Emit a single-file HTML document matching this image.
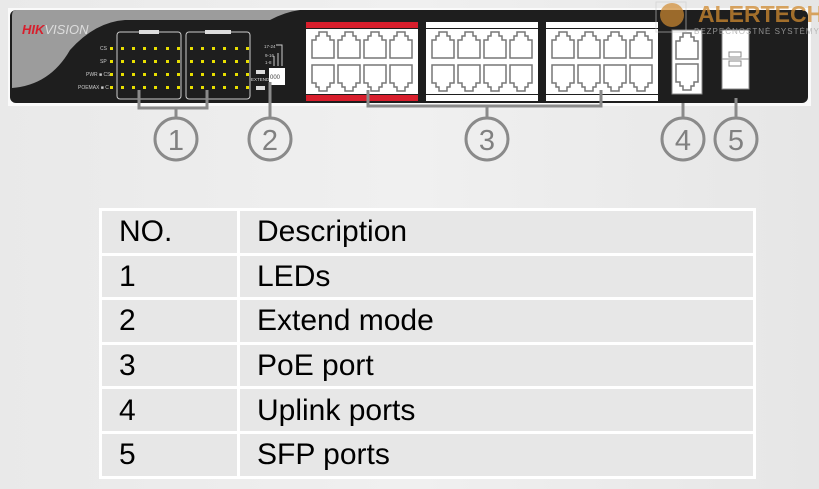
<!DOCTYPE html>
<html><head><meta charset="utf-8"><style>
body{margin:0;width:819px;height:489px;overflow:hidden;background:linear-gradient(90deg,#e9e9e9,#f0f0f0 50%,#e6e6e6);font-family:"Liberation Sans",sans-serif}
svg{position:absolute;left:0;top:0}
table{position:absolute;left:99px;top:208px;width:657px;border-collapse:separate;border-spacing:3px;background:#fff;font-family:"Liberation Sans",sans-serif;font-size:30px;color:#000}
td{background:#e7e7e7;height:41.6px;padding:0 0 0 17px;line-height:41px}
td:first-child{width:118px}
</style></head><body>
<svg width="819" height="489" viewBox="0 0 819 489">
<defs>
<g id="pt"><path d="M0,26V8H4V4H7V0H15V4H18V8H22V26Z" fill="#fff" stroke="#777" stroke-width="1.5"/></g>
<g id="pb"><path d="M0,0V18H4V22H7V26H15V22H18V18H22V0Z" fill="#fff" stroke="#777" stroke-width="1.5"/></g>
<g id="blk">
<rect x="0" y="12" width="112" height="6" fill="#d81e2c"/>
<rect x="0" y="19" width="112" height="65" fill="#fff"/>
<rect x="0" y="85" width="112" height="6" fill="#d81e2c"/>
<use href="#pt" x="6" y="22"/><use href="#pt" x="32" y="22"/><use href="#pt" x="58" y="22"/><use href="#pt" x="84" y="22"/>
<use href="#pb" x="6" y="55"/><use href="#pb" x="32" y="55"/><use href="#pb" x="58" y="55"/><use href="#pb" x="84" y="55"/>
</g>
<g id="blkw">
<rect x="0" y="12" width="112" height="6" fill="#fff"/>
<rect x="0" y="19" width="112" height="65" fill="#fff"/>
<rect x="0" y="85" width="112" height="6" fill="#fff"/>
<use href="#pt" x="6" y="22"/><use href="#pt" x="32" y="22"/><use href="#pt" x="58" y="22"/><use href="#pt" x="84" y="22"/>
<use href="#pb" x="6" y="55"/><use href="#pb" x="32" y="55"/><use href="#pb" x="58" y="55"/><use href="#pb" x="84" y="55"/>
</g>
<g id="leds" fill="#e8e000">
<rect x="3" y="15" width="3" height="3"/><rect x="14" y="15" width="3" height="3"/><rect x="25" y="15" width="3" height="3"/><rect x="36" y="15" width="3" height="3"/><rect x="48" y="15" width="3" height="3"/><rect x="59" y="15" width="3" height="3"/>
<rect x="3" y="28" width="3" height="3"/><rect x="14" y="28" width="3" height="3"/><rect x="25" y="28" width="3" height="3"/><rect x="36" y="28" width="3" height="3"/><rect x="48" y="28" width="3" height="3"/><rect x="59" y="28" width="3" height="3"/>
<rect x="3" y="41" width="3" height="3"/><rect x="14" y="41" width="3" height="3"/><rect x="25" y="41" width="3" height="3"/><rect x="36" y="41" width="3" height="3"/><rect x="48" y="41" width="3" height="3"/><rect x="59" y="41" width="3" height="3"/>
<rect x="3" y="54" width="3" height="3"/><rect x="14" y="54" width="3" height="3"/><rect x="25" y="54" width="3" height="3"/><rect x="36" y="54" width="3" height="3"/><rect x="48" y="54" width="3" height="3"/><rect x="59" y="54" width="3" height="3"/>
</g>
</defs>
<rect x="8" y="8" width="803" height="98" fill="#fafafa"/>
<rect x="10" y="10" width="798" height="93" rx="6" fill="#1e1e1e"/>
<path d="M16,10H300Q285,12 270,20H125Q95,22 70,50Q50,85 12,88V16Q12,10 16,10Z" fill="#9c9c9c"/>
<text x="22" y="34" font-size="13" font-weight="bold" font-style="italic" fill="#d81e2c">HIK<tspan fill="#ddd" font-weight="normal">VISION</tspan></text>
<rect x="117" y="32" width="64" height="67" rx="3" fill="none" stroke="#ccc" stroke-width="1"/>
<rect x="186" y="32" width="64" height="67" rx="3" fill="none" stroke="#ccc" stroke-width="1"/>
<rect x="139" y="30" width="20" height="4" fill="#ddd"/><rect x="205" y="30" width="26" height="4" fill="#ddd"/>
<use href="#leds" x="118" y="32"/><use href="#leds" x="187" y="32"/>
<g fill="#e8e000"><rect x="110" y="47" width="3" height="3"/><rect x="110" y="60" width="3" height="3"/><rect x="110" y="73" width="3" height="3"/><rect x="110" y="86" width="3" height="3"/></g>
<g fill="#ccc" font-size="5"><text x="100" y="50">CS</text><text x="100" y="63">SP</text><text x="86" y="76">PWR ■ CS</text><text x="78" y="89">POEMAX ■ C</text></g>
<rect x="256" y="70" width="9" height="4" fill="#ddd"/><rect x="256" y="86" width="9" height="4" fill="#ddd"/>
<text x="251" y="81" font-size="4.5" fill="#ddd">EXTEND</text>
<rect x="269" y="68" width="16" height="17" fill="#fff"/>
<text x="270" y="79" font-size="6" fill="#444">000</text>
<path d="M274,66V56M278,66V53M282,66V45H276" stroke="#ccc" fill="none"/>
<g font-size="4.5" fill="#ccc"><text x="264" y="48">17-24</text><text x="265" y="57">9-16</text><text x="265" y="64">1-8</text></g>
<use href="#blk" x="306" y="10"/>
<use href="#blkw" x="426" y="10"/>
<use href="#blkw" x="546" y="10"/>
<rect x="672" y="30" width="30" height="64" fill="#fff" stroke="#888"/>
<use href="#pt" x="676" y="33"/>
<use href="#pb" x="676" y="64"/>
<rect x="722" y="30" width="27" height="59" fill="#fff" stroke="#888"/>
<line x1="722" y1="59" x2="749" y2="59" stroke="#888"/>
<rect x="729" y="52" width="12" height="5" fill="none" stroke="#888"/><rect x="729" y="61" width="12" height="5" fill="none" stroke="#888"/>
<circle cx="672" cy="15" r="12" fill="#d08a30" opacity="0.7"/>
<rect x="656" y="2" width="30" height="30" fill="none" stroke="#ccc" opacity="0.6"/>
<text x="698" y="22" font-size="23" font-weight="bold" fill="#d08a30" opacity="0.75">ALERTECH</text>
<text x="694" y="34" font-size="8" fill="#aaa" letter-spacing="1" opacity="0.8">BEZPEČNOSTNÉ SYSTÉMY</text>
<g stroke="#8a8a8a" stroke-width="3" fill="none">
<path d="M139,90V108H207V90M176,108V117"/>
<path d="M270,82V117"/>
<path d="M368,90V106H601V90M487,106V117"/>
<path d="M683,103V117"/>
<path d="M736,98V117"/>
<circle cx="176" cy="139" r="21"/>
<circle cx="270" cy="139" r="21"/>
<circle cx="487" cy="139" r="21"/>
<circle cx="683" cy="139" r="21"/>
<circle cx="736" cy="139" r="21"/>
</g>
<g fill="#808080" font-size="29" text-anchor="middle" font-family="Liberation Sans,sans-serif">
<text x="176" y="150">1</text><text x="270" y="150">2</text><text x="487" y="150">3</text><text x="683" y="150">4</text><text x="736" y="150">5</text>
</g>
</svg>
<table>
<tr><td>NO.</td><td>Description</td></tr>
<tr><td>1</td><td>LEDs</td></tr>
<tr><td>2</td><td>Extend mode</td></tr>
<tr><td>3</td><td>PoE port</td></tr>
<tr><td>4</td><td>Uplink ports</td></tr>
<tr><td>5</td><td>SFP ports</td></tr>
</table>
</body></html>
